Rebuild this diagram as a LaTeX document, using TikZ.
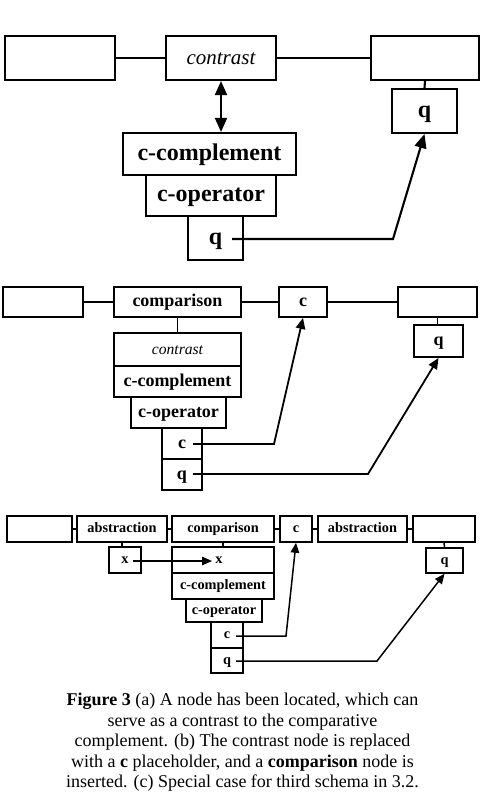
\documentclass[tikz,border=0pt]{standalone}
\usepackage{fontspec}
\setmainfont{Liberation Serif}
\usetikzlibrary{
  arrows.meta, % Triangle 箭头
  calc         % 坐标计算
}
\tikzset{
  slot/.style={draw, inner sep=0pt},
  sized/.style 2 args={minimum width=#1pt, minimum height=#2pt},
  big/.style={line width=2.1pt, font=\fontsize{24}{26}\selectfont\bfseries,
    every node/.append style={text height=17pt, text depth=5pt}},
  mid/.style={line width=1.8pt, font=\fontsize{18}{20}\selectfont\bfseries,
    every node/.append style={text height=12.8pt, text depth=3.8pt}},
  small/.style={line width=1.5pt, font=\fontsize{14.3}{16}\selectfont\bfseries,
    every node/.append style={text height=10.1pt, text depth=3pt}},
  role/.style={font=\fontsize{#1}{#1}\selectfont\itshape},
  pointer/.style={-{Triangle[length=#1pt, width=.85*#1pt]}},
  both pointer/.style={{Triangle[length=#1pt, width=.85*#1pt]}-{Triangle[length=#1pt, width=.85*#1pt]}}
}

\begin{document}
\begin{tikzpicture}[x=1pt, y=-1pt] % 以像素为单位，y 轴向下
  \useasboundingbox (0,0) rectangle (480,792);
  \clip (0,0) rectangle (480,792);

  % (a) 找到对比节点
  \begin{scope}[big]
    \node[slot, sized={110}{44}] (aL) at (60,58) {};
    \node[slot, sized={110}{44}, role=21] (aCon) at (221,58) {contrast};
    \node[slot, sized={108}{44}] (aR) at (425,58) {};
    \node[slot, sized={65}{44}] (aRq) at (424.5,111) {q};
    \node[slot, sized={173}{42}] (aComp) at (209.5,154) {c-complement};
    \node[slot, sized={130}{41}] (aOp) at (211,195.5) {c-operator};
    \node[slot, sized={55}{44}] (aQ) at (215.5,238) {q};
    \draw (aL.east) -- (aCon.west); % 横向连线
    \draw (aCon.east) -- (aR.west);
    \draw (aR.south) -- (aRq.north);
    \draw[both pointer=14] (aCon.south) -- (aCon.south |- aComp.north); % 双向箭头
    \coordinate (aQs) at (232,239);
    \coordinate (aBend) at (393,239);
    \draw[pointer=14] (aQs) -- (aBend) -- (aRq.south);
  \end{scope}

  % (b) 插入 comparison 节点
  \begin{scope}[mid]
    \node[slot, sized={80}{30}] (bL) at (43,302) {};
    \node[slot, sized={127}{30}] (bCmp) at (177.5,302) {comparison};
    \node[slot, sized={48}{30}] (bC) at (303,302) {c};
    \node[slot, sized={79}{30}] (bR) at (437.5,302) {};
    \node[slot, sized={49}{32}] (bRq) at (438.5,341) {q};
    \node[slot, sized={127}{33}, role=15.6] (bCon) at (177.5,349.5) {contrast};
    \node[slot, sized={127}{31}] (bComp) at (177.5,381.5) {c-complement};
    \node[slot, sized={95}{31}] (bOp) at (178.5,412.5) {c-operator};
    \node[slot, sized={40}{31}] (bc) at (182,443.5) {c};
    \node[slot, sized={40}{31}] (bq) at (182,474.5) {q};
    \draw (bL.east) -- (bCmp.west);
    \draw (bCmp.east) -- (bC.west);
    \draw (bC.east) -- (bR.west);
    \draw (bCmp.south) -- (bCon.north);
    \draw (bRq.north -| bR.south) -- (bR.south);
    \coordinate (bcs) at (193,444);
    \coordinate (bcBend) at (274,444);
    \draw[pointer=11] (bcs) -- (bcBend) -- (bC.south);
    \coordinate (bqs) at (193,474);
    \coordinate (bqBend) at (368,474);
    \draw[pointer=11] (bqs) -- (bqBend) -- (bRq.south);
  \end{scope}

  % (c) 第三种模式的特例
  \begin{scope}[small]
    \node[slot, sized={65}{26}] (cL) at (39.5,529) {};
    \node[slot, sized={90}{26}] (cAb) at (122,529) {abstraction};
    \node[slot, sized={102}{26}] (cCmp) at (223,529) {comparison};
    \node[slot, sized={32}{26}] (cC) at (296,529) {c};
    \node[slot, sized={89}{26}] (cAbb) at (362.5,529) {abstraction};
    \node[slot, sized={62}{26}] (cR) at (444,529) {};
    \node[slot, sized={32}{26}] (cX) at (125,560) {x};
    \node[slot, sized={102}{26}] (cXc) at (223,560) {\kern-8pt x};
    \node[slot, sized={102}{26}] (cComp) at (223,586) {c-complement};
    \node[slot, sized={76}{23}] (cOp) at (224,610.5) {c-operator};
    \node[slot, sized={32}{26}] (cc) at (227,635) {c};
    \node[slot, sized={32}{25}] (cq) at (227,660.5) {q};
    \node[slot, sized={37}{25}] (cRq) at (444.5,560.5) {q};
    \draw (cL.east) -- (cAb.west);
    \draw (cAb.east) -- (cCmp.west);
    \draw (cCmp.east) -- (cC.west);
    \draw (cC.east) -- (cAbb.west);
    \draw (cAbb.east) -- (cR.west);
    \draw (cAb.south) -- (cAb.south |- cX.north);
    \draw (cCmp.south) -- (cXc.north);
    \draw (cR.south) -- (cRq.north);
    \coordinate (cXs) at (133,561);
    \coordinate (cXe) at (212,561);
    \draw[pointer=10] (cXs) -- (cXe);
    \coordinate (ccs) at (236,636);
    \coordinate (ccBend) at (286,636);
    \draw[pointer=10] (ccs) -- (ccBend) -- (cC.south);
    \coordinate (cqs) at (236,661);
    \coordinate (cqBend) at (377,661);
    \draw[pointer=10] (cqs) -- (cqBend) -- (cRq.south);
  \end{scope}

  % 图注
  \node[anchor=north, inner sep=0pt, align=center, font=\fontsize{18}{20.5}\selectfont] (caption) at (242.5,693)
    {{\bfseries Figure 3} (a) A node has been located, which can\\
     serve as a contrast to the comparative\\
     complement. (b) The contrast node is replaced\\
     with a {\bfseries c} placeholder, and a {\bfseries comparison} node is\\
     inserted. (c) Special case for third schema in 3.2.};
\end{tikzpicture}
\end{document}
